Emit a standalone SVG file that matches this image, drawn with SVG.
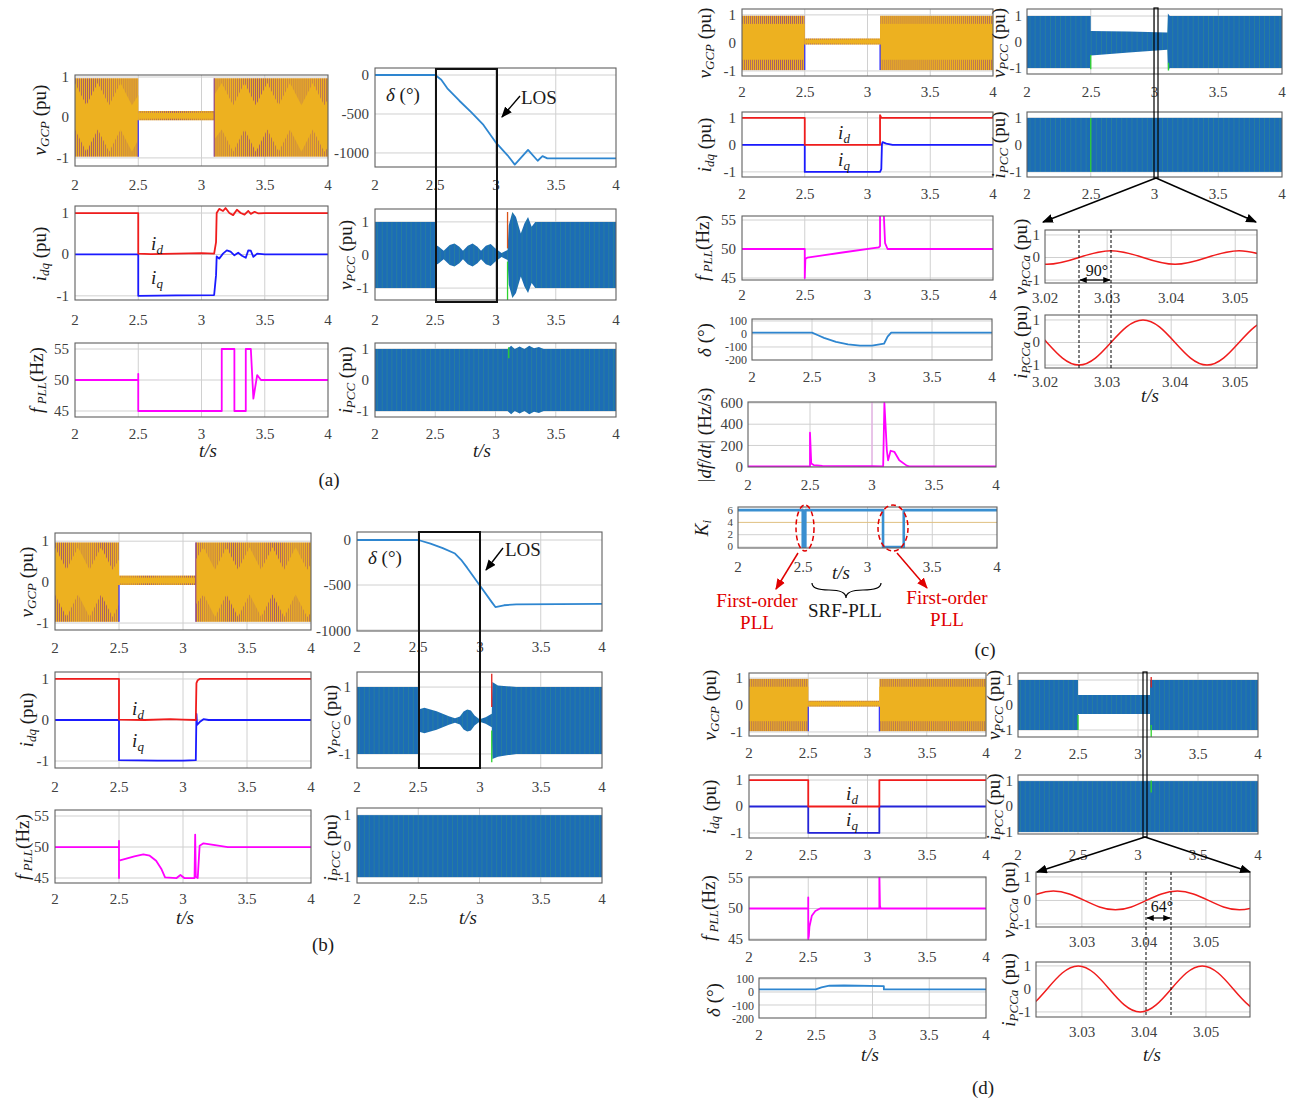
<svg xmlns="http://www.w3.org/2000/svg" xmlns:xlink="http://www.w3.org/1999/xlink" width="1302" height="1102" viewBox="0 0 1302 1102">
<style>
.fr{fill:none;stroke:#606060;stroke-width:1.1}
.g{fill:none;stroke:#d0d0d0;stroke-width:1;vector-effect:non-scaling-stroke}
.d{fill:none;stroke-width:1.8;vector-effect:non-scaling-stroke;stroke-linejoin:round}
.t{font-family:"Liberation Serif","Times New Roman",serif;font-size:15px;fill:#404040}
.tx{text-anchor:middle}
.ty{text-anchor:end}
.sm{font-size:12px}
.xs{font-size:11px}
.lb{font-family:"Liberation Serif","Times New Roman",serif;font-size:19px;fill:#1a1a1a;text-anchor:middle}
.i{font-style:italic}
.s{font-size:13px}
.rd{fill:#e00000}
.cn{fill:none;stroke:#000;stroke-width:1.4}
</style>
<defs>
<pattern id="po" patternUnits="userSpaceOnUse" x="0" y="-2" width="0.016" height="4"><rect width="0.016" height="4" fill="#EDB120"/><rect width="0.0035" height="4" fill="#7E2F8E"/></pattern>
<pattern id="pb" patternUnits="userSpaceOnUse" x="0" y="-2" width="0.04" height="4"><rect width="0.04" height="4" fill="#1c6db5"/><rect x="0.02" width="0.004" height="4" fill="#59c43a" opacity="0.35"/></pattern>
<marker id="mk" viewBox="0 0 10 8" refX="9" refY="4" markerWidth="11" markerHeight="9" markerUnits="userSpaceOnUse" orient="auto-start-reverse"><path d="M0,0 L10,4 L0,8 z" fill="#000"/></marker>
<marker id="ms" viewBox="0 0 10 8" refX="9" refY="4" markerWidth="8" markerHeight="6" markerUnits="userSpaceOnUse" orient="auto-start-reverse"><path d="M0,0 L10,4 L0,8 z" fill="#000"/></marker>
<marker id="mr" viewBox="0 0 10 8" refX="9" refY="4" markerWidth="11" markerHeight="9" markerUnits="userSpaceOnUse" orient="auto"><path d="M0,0 L10,4 L0,8 z" fill="#e00000"/></marker>
<g id="vgA">
<rect x="2" y="-0.97" width="0.5" height="1.94" fill="url(#po)"/>
<rect x="3.1" y="-0.97" width="0.9" height="1.94" fill="url(#po)"/>
<polygon fill="#EDB120" points="2,0.85 2.09,0.3 2.18,0.85 2.27,0.3 2.36,0.85 2.45,0.3 2.5,0.55 2.5,-0.55 2.45,-0.85 2.36,-0.3 2.27,-0.85 2.18,-0.3 2.09,-0.85 2,-0.3"/>
<polygon fill="#EDB120" points="3.1,0.55 3.16,0.85 3.25,0.3 3.34,0.85 3.43,0.3 3.52,0.85 3.61,0.3 3.7,0.85 3.79,0.3 3.88,0.85 3.97,0.3 4,0.45 4,-0.75 3.97,-0.85 3.88,-0.3 3.79,-0.85 3.7,-0.3 3.61,-0.85 3.52,-0.3 3.43,-0.85 3.34,-0.3 3.25,-0.85 3.16,-0.3 3.1,-0.55"/>
<rect x="2.5" y="-0.07" width="0.6" height="0.23" fill="url(#po)"/>
<rect x="2.5" y="-0.03" width="0.6" height="0.14" fill="#EDB120"/>
<path class="d" d="M2.5,-0.07V-0.97" stroke="#3030ff" style="stroke-width:1.2"/>
<path class="d" d="M3.1,-0.97V0.97" stroke="#7E2F8E" style="stroke-width:1"/>
</g>
<g id="vgC">
<rect x="2" y="-0.97" width="0.5" height="1.94" fill="url(#po)"/>
<rect x="3.1" y="-0.97" width="0.9" height="1.94" fill="url(#po)"/>
<rect x="2" y="-0.6" width="0.5" height="1.28" fill="#EDB120"/>
<rect x="3.1" y="-0.6" width="0.9" height="1.28" fill="#EDB120"/>
<rect x="2.5" y="-0.06" width="0.6" height="0.22" fill="url(#po)"/>
<rect x="2.5" y="-0.02" width="0.6" height="0.14" fill="#EDB120"/>
<path class="d" d="M2.5,-0.06V-0.97M3.1,-0.06V-0.97" stroke="#3030ff" style="stroke-width:1.2"/>
</g>
</defs>
<rect width="1302" height="1102" fill="#fff"/>

<!-- ================= PANEL A ================= -->
<g id="panel-a">
<g id="a1">
<svg x="75" y="75" width="253" height="91" viewBox="2 -1.05 2 2.25" preserveAspectRatio="none"><g transform="scale(1,-1)">
<path class="g" d="M2.5,-9999V9999M3,-9999V9999M3.5,-9999V9999M1,1H5M1,0H5M1,-1H5"/>
<use href="#vgA"/>
</g></svg>
<rect class="fr" x="75" y="75" width="253" height="91"/>
<text class="t ty" x="69" y="82">1</text><text class="t ty" x="69" y="122">0</text><text class="t ty" x="69" y="163">-1</text>
<text class="t tx" x="75" y="190">2</text><text class="t tx" x="138" y="190">2.5</text><text class="t tx" x="201.5" y="190">3</text><text class="t tx" x="265" y="190">3.5</text><text class="t tx" x="328" y="190">4</text>
<text class="lb" transform="translate(46,120) rotate(-90)"><tspan class="i">v</tspan><tspan class="i s" dy="3">GCP</tspan><tspan dy="-3"> (pu)</tspan></text>
</g>
<g id="a2">
<svg x="75" y="206" width="253" height="94" viewBox="2 -1.17 2 2.27" preserveAspectRatio="none"><g transform="scale(1,-1)">
<path class="g" d="M2.5,-9999V9999M3,-9999V9999M3.5,-9999V9999M1,1H5M1,0H5M1,-1H5"/>
<path class="d" stroke="#1a1aff" d="M2,0 H2.5 V-1 L2.8,-0.99 L3.1,-0.98 L3.115,-0.5 L3.12,-0.05 L3.14,-0.1 L3.17,0.02 L3.2,0.1 L3.23,0.07 L3.26,-0.02 L3.29,0.04 L3.32,-0.03 L3.35,-0.08 L3.37,0.1 L3.39,0.09 L3.41,-0.06 L3.44,0.02 L3.5,0 H4"/>
<path class="d" stroke="#f01c1c" d="M2,1 H2.5 V0.02 L2.6,0.01 L2.8,0.02 L3,0.03 L3.1,0.02 L3.115,0.3 L3.12,1 L3.14,1.1 L3.17,1.05 L3.19,1.12 L3.22,1.0 L3.25,0.95 L3.28,1.08 L3.31,1.0 L3.34,0.96 L3.37,1.05 L3.39,0.98 L3.42,1.03 L3.45,0.99 L3.5,1 H4"/>
</g></svg>
<rect class="fr" x="75" y="206" width="253" height="94"/>
<text class="t ty" x="69" y="218">1</text><text class="t ty" x="69" y="259">0</text><text class="t ty" x="69" y="301">-1</text>
<text class="t tx" x="75" y="325">2</text><text class="t tx" x="138" y="325">2.5</text><text class="t tx" x="201.5" y="325">3</text><text class="t tx" x="265" y="325">3.5</text><text class="t tx" x="328" y="325">4</text>
<text class="lb" transform="translate(46,254) rotate(-90)"><tspan class="i">i</tspan><tspan class="i s" dy="3">dq</tspan><tspan dy="-3"> (pu)</tspan></text>
<text class="lb i" x="157" y="250">i<tspan class="s" dy="4">d</tspan></text>
<text class="lb i" x="157" y="284">i<tspan class="s" dy="4">q</tspan></text>
</g>
<g id="a3">
<svg x="75" y="343" width="253" height="74" viewBox="2 -55.97 2 11.94" preserveAspectRatio="none"><g transform="scale(1,-1)">
<path class="g" d="M2.5,-9999V9999M3,-9999V9999M3.5,-9999V9999M1,55H5M1,50H5M1,45H5"/>
<path class="d" stroke="#ff00ff" d="M2,50 H2.5 V51 V45 H3.16 V55 H3.26 V45 H3.35 V55 H3.39 L3.41,47 L3.44,50.8 L3.47,50 H4"/>
</g></svg>
<rect class="fr" x="75" y="343" width="253" height="74"/>
<text class="t ty" x="69" y="354">55</text><text class="t ty" x="69" y="385">50</text><text class="t ty" x="69" y="416">45</text>
<text class="t tx" x="75" y="439">2</text><text class="t tx" x="138" y="439">2.5</text><text class="t tx" x="201.5" y="439">3</text><text class="t tx" x="265" y="439">3.5</text><text class="t tx" x="328" y="439">4</text>
<text class="lb" transform="translate(43,380) rotate(-90)"><tspan class="i">f</tspan><tspan class="i s" dy="3"> PLL</tspan><tspan dy="-3">(Hz)</tspan></text>
<text class="lb i" x="208" y="457">t/s</text>
</g>
<g id="a4">
<svg x="375" y="68" width="241" height="99" viewBox="2 -90 2 1270" preserveAspectRatio="none"><g transform="scale(1,-1)">
<path class="g" d="M2.5,-9999V9999M3,-9999V9999M3.5,-9999V9999M1,0H5M1,-500H5M1,-1000H5"/>
<path class="d" stroke="#2e86d0" d="M2,0 H2.5 L2.55,-60 L2.6,-170 L2.7,-330 L2.8,-480 L2.9,-640 L3,-860 L3.1,-1030 L3.16,-1150 L3.27,-960 L3.35,-1100 L3.39,-1040 L3.43,-1070 H4"/>
</g></svg>
<rect class="fr" x="375" y="68" width="241" height="99"/>
<text class="t ty" x="369" y="80">0</text><text class="t ty" x="369" y="119">-500</text><text class="t ty" x="369" y="158">-1000</text>
<text class="t tx" x="375" y="190">2</text><text class="t tx" x="435" y="190">2.5</text><text class="t tx" x="496" y="190">3</text><text class="t tx" x="556" y="190">3.5</text><text class="t tx" x="616" y="190">4</text>
<text class="lb" x="386" y="101" style="text-anchor:start"><tspan class="i">δ</tspan> (°)</text>
<text class="lb" x="521" y="104" style="text-anchor:start">LOS</text>
</g>
<g id="a5">
<svg x="375" y="209" width="241" height="91" viewBox="2 -1.39 2 2.75" preserveAspectRatio="none"><g transform="scale(1,-1)">
<path class="g" d="M2.5,-9999V9999M3,-9999V9999M3.5,-9999V9999M1,1H5M1,0H5M1,-1H5"/>
<polygon fill="url(#pb)" points="2,1 2.5,1 2.5,0.32 2.53,0.25 2.57,0.13 2.62,0.3 2.66,0.35 2.7,0.25 2.73,0.13 2.77,0.28 2.81,0.35 2.85,0.25 2.88,0.13 2.92,0.28 2.96,0.33 3.0,0.2 3.05,0.06 3.1,0.15 3.11,0.9 3.14,1.3 3.17,1.15 3.21,0.65 3.24,0.95 3.27,1.15 3.3,0.85 3.33,1.0 4,1 4,-1 3.33,-1.0 3.3,-0.85 3.27,-1.15 3.24,-0.95 3.21,-0.65 3.17,-1.15 3.14,-1.3 3.11,-0.9 3.1,-0.15 3.05,-0.06 3.0,-0.2 2.96,-0.33 2.92,-0.28 2.88,-0.13 2.85,-0.25 2.81,-0.35 2.77,-0.28 2.73,-0.13 2.7,-0.25 2.66,-0.35 2.62,-0.3 2.57,-0.13 2.53,-0.25 2.5,-0.32 2.5,-1 2,-1"/>
<path class="d" stroke="#d95319" style="stroke-width:1.3" d="M3.1,0.2V1.3"/>
<path class="d" stroke="#2fd32f" style="stroke-width:1.3" d="M3.1,-1.4V-0.2"/>
</g></svg>
<rect class="fr" x="375" y="209" width="241" height="91"/>
<text class="t ty" x="369" y="227">1</text><text class="t ty" x="369" y="260">0</text><text class="t ty" x="369" y="293">-1</text>
<text class="t tx" x="375" y="325">2</text><text class="t tx" x="435" y="325">2.5</text><text class="t tx" x="496" y="325">3</text><text class="t tx" x="556" y="325">3.5</text><text class="t tx" x="616" y="325">4</text>
<text class="lb" transform="translate(352,255) rotate(-90)"><tspan class="i">v</tspan><tspan class="i s" dy="3">PCC</tspan><tspan dy="-3"> (pu)</tspan></text>
</g>
<g id="a6">
<svg x="375" y="343" width="241" height="74" viewBox="2 -1.19 2 2.38" preserveAspectRatio="none"><g transform="scale(1,-1)">
<path class="g" d="M2.5,-9999V9999M3,-9999V9999M3.5,-9999V9999M1,1H5M1,0H5M1,-1H5"/>
<polygon fill="url(#pb)" points="2,1 3.1,1 3.13,1.1 3.16,1.0 3.2,1.08 3.24,1.0 3.28,1.1 3.32,1.02 3.36,1.06 3.4,1 4,1 4,-1 3.4,-1 3.36,-1.06 3.32,-1.02 3.28,-1.1 3.24,-1.0 3.2,-1.08 3.16,-1.0 3.13,-1.1 3.1,-1 2,-1"/>
<path class="d" stroke="#2fd32f" style="stroke-width:1.3" d="M3.11,0.7V1.05"/>
</g></svg>
<rect class="fr" x="375" y="343" width="241" height="74"/>
<text class="t ty" x="369" y="354">1</text><text class="t ty" x="369" y="385">0</text><text class="t ty" x="369" y="416">-1</text>
<text class="t tx" x="375" y="439">2</text><text class="t tx" x="435" y="439">2.5</text><text class="t tx" x="496" y="439">3</text><text class="t tx" x="556" y="439">3.5</text><text class="t tx" x="616" y="439">4</text>
<text class="lb" transform="translate(352,380) rotate(-90)"><tspan class="i">i</tspan><tspan class="i s" dy="3">PCC</tspan><tspan dy="-3"> (pu)</tspan></text>
<text class="lb i" x="482" y="457">t/s</text>
</g>
<text id="label-a" class="lb" x="329" y="486">(a)</text>
</g>

<!-- ================= PANEL B ================= -->
<g id="panel-b">
<g id="b1">
<svg x="55" y="533" width="256" height="97" viewBox="2 -1.2 2 2.37" preserveAspectRatio="none"><g transform="scale(1,-1)">
<path class="g" d="M2.5,-9999V9999M3,-9999V9999M3.5,-9999V9999M1,1H5M1,0H5M1,-1H5"/>
<use href="#vgA"/>
</g></svg>
<rect class="fr" x="55" y="533" width="256" height="97"/>
<text class="t ty" x="49" y="546">1</text><text class="t ty" x="49" y="587">0</text><text class="t ty" x="49" y="628">-1</text>
<text class="t tx" x="55" y="653">2</text><text class="t tx" x="119" y="653">2.5</text><text class="t tx" x="183" y="653">3</text><text class="t tx" x="247" y="653">3.5</text><text class="t tx" x="311" y="653">4</text>
<text class="lb" transform="translate(33,582) rotate(-90)"><tspan class="i">v</tspan><tspan class="i s" dy="3">GCP</tspan><tspan dy="-3"> (pu)</tspan></text>
</g>
<g id="b2">
<svg x="55" y="672" width="256" height="96" viewBox="2 -1.17 2 2.34" preserveAspectRatio="none"><g transform="scale(1,-1)">
<path class="g" d="M2.5,-9999V9999M3,-9999V9999M3.5,-9999V9999M1,1H5M1,0H5M1,-1H5"/>
<path class="d" stroke="#1a1aff" d="M2,0 H2.5 V-0.98 L2.8,-0.99 L3.0,-0.99 L3.1,-0.98 L3.105,0.15 L3.11,-0.12 L3.13,-0.05 L3.16,0.02 L3.2,0 H4"/>
<path class="d" stroke="#f01c1c" d="M2,1 H2.5 V0.01 L2.7,0.0 L2.9,0.02 L3,0.01 L3.1,0.0 L3.105,0.9 L3.115,0.97 L3.13,1 H4"/>
</g></svg>
<rect class="fr" x="55" y="672" width="256" height="96"/>
<text class="t ty" x="49" y="684">1</text><text class="t ty" x="49" y="725">0</text><text class="t ty" x="49" y="766">-1</text>
<text class="t tx" x="55" y="792">2</text><text class="t tx" x="119" y="792">2.5</text><text class="t tx" x="183" y="792">3</text><text class="t tx" x="247" y="792">3.5</text><text class="t tx" x="311" y="792">4</text>
<text class="lb" transform="translate(33,720) rotate(-90)"><tspan class="i">i</tspan><tspan class="i s" dy="3">dq</tspan><tspan dy="-3"> (pu)</tspan></text>
<text class="lb i" x="138" y="715">i<tspan class="s" dy="4">d</tspan></text>
<text class="lb i" x="138" y="747">i<tspan class="s" dy="4">q</tspan></text>
</g>
<g id="b3">
<svg x="55" y="810" width="256" height="73" viewBox="2 -55.97 2 11.77" preserveAspectRatio="none"><g transform="scale(1,-1)">
<path class="g" d="M2.5,-9999V9999M3,-9999V9999M3.5,-9999V9999M1,55H5M1,50H5M1,45H5"/>
<path class="d" stroke="#ff00ff" d="M2,50 H2.5 V51 V45 V47.8 L2.55,48.1 L2.62,48.5 L2.69,48.8 L2.74,48.6 L2.79,47.8 L2.83,46.5 L2.86,45.1 L2.95,45 L2.98,45.5 L3.01,45 L3.09,45 L3.095,52 L3.1,45.2 L3.115,45 L3.13,50.2 L3.16,50.6 L3.25,50.3 L3.35,50 H4"/>
</g></svg>
<rect class="fr" x="55" y="810" width="256" height="73"/>
<text class="t ty" x="49" y="821">55</text><text class="t ty" x="49" y="852">50</text><text class="t ty" x="49" y="883">45</text>
<text class="t tx" x="55" y="904">2</text><text class="t tx" x="119" y="904">2.5</text><text class="t tx" x="183" y="904">3</text><text class="t tx" x="247" y="904">3.5</text><text class="t tx" x="311" y="904">4</text>
<text class="lb" transform="translate(29,847) rotate(-90)"><tspan class="i">f</tspan><tspan class="i s" dy="3"> PLL</tspan><tspan dy="-3">(Hz)</tspan></text>
<text class="lb i" x="185" y="924">t/s</text>
</g>
<g id="b4">
<svg x="357" y="532" width="245" height="99" viewBox="2 -89 2 1100" preserveAspectRatio="none"><g transform="scale(1,-1)">
<path class="g" d="M2.5,-9999V9999M3,-9999V9999M3.5,-9999V9999M1,0H5M1,-500H5M1,-1000H5"/>
<path class="d" stroke="#2e86d0" d="M2,0 H2.5 L2.6,-40 L2.7,-90 L2.8,-150 L2.85,-220 L2.9,-310 L3,-500 L3.1,-690 L3.13,-745 L3.2,-725 L3.3,-715 L4,-710"/>
</g></svg>
<rect class="fr" x="357" y="532" width="245" height="99"/>
<text class="t ty" x="351" y="545">0</text><text class="t ty" x="351" y="590">-500</text><text class="t ty" x="351" y="636">-1000</text>
<text class="t tx" x="357" y="652">2</text><text class="t tx" x="418" y="652">2.5</text><text class="t tx" x="480" y="652">3</text><text class="t tx" x="541" y="652">3.5</text><text class="t tx" x="602" y="652">4</text>
<text class="lb" x="368" y="564" style="text-anchor:start"><tspan class="i">δ</tspan> (°)</text>
<text class="lb" x="505" y="556" style="text-anchor:start">LOS</text>
</g>
<g id="b5">
<svg x="357" y="672" width="245" height="96" viewBox="2 -1.45 2 2.87" preserveAspectRatio="none"><g transform="scale(1,-1)">
<path class="g" d="M2.5,-9999V9999M3,-9999V9999M3.5,-9999V9999M1,1H5M1,0H5M1,-1H5"/>
<polygon fill="url(#pb)" points="2,1 2.5,1 2.5,0.33 2.55,0.38 2.6,0.33 2.65,0.28 2.7,0.2 2.75,0.13 2.8,0.07 2.84,0.12 2.87,0.27 2.9,0.33 2.93,0.3 2.96,0.15 3.0,0.04 3.05,0.1 3.1,0.2 3.105,1.15 3.15,1.05 3.3,1.0 4,1 4,-1 3.3,-1.0 3.15,-1.08 3.105,-1.15 3.1,-0.2 3.05,-0.1 3.0,-0.04 2.96,-0.15 2.93,-0.3 2.9,-0.33 2.87,-0.27 2.84,-0.12 2.8,-0.07 2.75,-0.13 2.7,-0.2 2.65,-0.28 2.6,-0.33 2.55,-0.38 2.5,-0.33 2.5,-1 2,-1"/>
<path class="d" stroke="#e0201a" style="stroke-width:1.3" d="M3.1,0.4V1.4"/>
<path class="d" stroke="#2fd32f" style="stroke-width:1.3" d="M3.1,-1.25V-0.3"/>
</g></svg>
<rect class="fr" x="357" y="672" width="245" height="96"/>
<text class="t ty" x="351" y="692">1</text><text class="t ty" x="351" y="725">0</text><text class="t ty" x="351" y="759">-1</text>
<text class="t tx" x="357" y="792">2</text><text class="t tx" x="418" y="792">2.5</text><text class="t tx" x="480" y="792">3</text><text class="t tx" x="541" y="792">3.5</text><text class="t tx" x="602" y="792">4</text>
<text class="lb" transform="translate(337,720) rotate(-90)"><tspan class="i">v</tspan><tspan class="i s" dy="3">PCC</tspan><tspan dy="-3"> (pu)</tspan></text>
</g>
<g id="b6">
<svg x="357" y="808" width="245" height="75" viewBox="2 -1.23 2 2.42" preserveAspectRatio="none"><g transform="scale(1,-1)">
<path class="g" d="M2.5,-9999V9999M3,-9999V9999M3.5,-9999V9999M1,1H5M1,0H5M1,-1H5"/>
<rect x="2" y="-1" width="2" height="2" fill="url(#pb)"/>
</g></svg>
<rect class="fr" x="357" y="808" width="245" height="75"/>
<text class="t ty" x="351" y="820">1</text><text class="t ty" x="351" y="851">0</text><text class="t ty" x="351" y="882">-1</text>
<text class="t tx" x="357" y="904">2</text><text class="t tx" x="418" y="904">2.5</text><text class="t tx" x="480" y="904">3</text><text class="t tx" x="541" y="904">3.5</text><text class="t tx" x="602" y="904">4</text>
<text class="lb" transform="translate(337,848) rotate(-90)"><tspan class="i">i</tspan><tspan class="i s" dy="3">PCC</tspan><tspan dy="-3"> (pu)</tspan></text>
<text class="lb i" x="468" y="924">t/s</text>
</g>
<text id="label-b" class="lb" x="323" y="951">(b)</text>
</g>

<!-- ================= PANEL C ================= -->
<g id="panel-c">
<g id="c1">
<svg x="742" y="9" width="251" height="67" viewBox="2 -1.21 2 2.39" preserveAspectRatio="none"><g transform="scale(1,-1)">
<path class="g" d="M2.5,-9999V9999M3,-9999V9999M3.5,-9999V9999M1,1H5M1,0H5M1,-1H5"/>
<use href="#vgC"/>
</g></svg>
<rect class="fr" x="742" y="9" width="251" height="67"/>
<text class="t ty" x="736" y="20">1</text><text class="t ty" x="736" y="48">0</text><text class="t ty" x="736" y="76">-1</text>
<text class="t tx" x="742" y="97">2</text><text class="t tx" x="805" y="97">2.5</text><text class="t tx" x="867.5" y="97">3</text><text class="t tx" x="930" y="97">3.5</text><text class="t tx" x="993" y="97">4</text>
<text class="lb" transform="translate(711,43) rotate(-90)"><tspan class="i">v</tspan><tspan class="i s" dy="3">GCP</tspan><tspan dy="-3"> (pu)</tspan></text>
</g>
<g id="c2">
<svg x="742" y="112" width="251" height="65" viewBox="2 -1.22 2 2.41" preserveAspectRatio="none"><g transform="scale(1,-1)">
<path class="g" d="M2.5,-9999V9999M3,-9999V9999M3.5,-9999V9999M1,1H5M1,0H5M1,-1H5"/>
<path class="d" stroke="#1a1aff" d="M2,0 H2.5 V-1 H3.1 L3.11,-0.9 L3.115,0.02 L3.12,0.1 L3.15,0.05 L3.2,0 H4"/>
<path class="d" stroke="#f01c1c" d="M2,1 H2.5 V0 H3.1 V1.1 L3.11,1 H4"/>
</g></svg>
<rect class="fr" x="742" y="112" width="251" height="65"/>
<text class="t ty" x="736" y="123">1</text><text class="t ty" x="736" y="150">0</text><text class="t ty" x="736" y="177">-1</text>
<text class="t tx" x="742" y="199">2</text><text class="t tx" x="805" y="199">2.5</text><text class="t tx" x="867.5" y="199">3</text><text class="t tx" x="930" y="199">3.5</text><text class="t tx" x="993" y="199">4</text>
<text class="lb" transform="translate(711,145) rotate(-90)"><tspan class="i">i</tspan><tspan class="i s" dy="3">dq</tspan><tspan dy="-3"> (pu)</tspan></text>
<text class="lb i" x="844" y="139">i<tspan class="s" dy="4">d</tspan></text>
<text class="lb i" x="844" y="166">i<tspan class="s" dy="4">q</tspan></text>
</g>
<g id="c3">
<svg x="742" y="216" width="251" height="64" viewBox="2 -55.69 2 11.03" preserveAspectRatio="none"><g transform="scale(1,-1)">
<path class="g" d="M2.5,-9999V9999M3,-9999V9999M3.5,-9999V9999M1,55H5M1,50H5M1,45H5"/>
<path class="d" stroke="#ff00ff" d="M2,50 H2.5 V45 L2.505,48.3 L2.52,48.5 L2.8,49.4 L3.09,50.3 L3.1,50.5 V56 L3.13,56 L3.14,51 L3.16,50 H4"/>
</g></svg>
<rect class="fr" x="742" y="216" width="251" height="64"/>
<text class="t ty" x="736" y="225">55</text><text class="t ty" x="736" y="254">50</text><text class="t ty" x="736" y="283">45</text>
<text class="t tx" x="742" y="300">2</text><text class="t tx" x="805" y="300">2.5</text><text class="t tx" x="867.5" y="300">3</text><text class="t tx" x="930" y="300">3.5</text><text class="t tx" x="993" y="300">4</text>
<text class="lb" transform="translate(709,248) rotate(-90)"><tspan class="i">f</tspan><tspan class="i s" dy="3"> PLL</tspan><tspan dy="-3">(Hz)</tspan></text>
</g>
<g id="c4">
<svg x="752" y="319" width="240" height="41" viewBox="2 -115 2 315" preserveAspectRatio="none"><g transform="scale(1,-1)">
<path class="g" d="M2.5,-9999V9999M3,-9999V9999M3.5,-9999V9999M1,100H5M1,0H5M1,-100H5"/>
<path class="d" stroke="#2e86d0" d="M2,10 H2.5 L2.55,-10 L2.6,-30 L2.7,-60 L2.8,-80 L2.9,-90 L3.0,-90 L3.1,-75 L3.13,-20 L3.16,10 H4"/>
</g></svg>
<rect class="fr" x="752" y="319" width="240" height="41"/>
<text class="t ty sm" x="747" y="325">100</text><text class="t ty sm" x="747" y="338">0</text><text class="t ty sm" x="747" y="351">-100</text><text class="t ty sm" x="747" y="364">-200</text>
<text class="t tx" x="752" y="382">2</text><text class="t tx" x="812" y="382">2.5</text><text class="t tx" x="872" y="382">3</text><text class="t tx" x="932" y="382">3.5</text><text class="t tx" x="992" y="382">4</text>
<text class="lb" transform="translate(711,340) rotate(-90)"><tspan class="i">δ</tspan> (°)</text>
</g>
<g id="c5">
<svg x="748" y="402" width="248" height="65" viewBox="2 -609 2 612" preserveAspectRatio="none"><g transform="scale(1,-1)">
<path class="g" d="M2.5,-9999V9999M3,-9999V9999M3.5,-9999V9999M1,600H5M1,400H5M1,200H5M1,0H5"/>
<path class="d" stroke="#eaa0ea" style="stroke-width:1" d="M3,0V620"/>
<path class="d" stroke="#ff00ff" d="M2,2 H2.5 V320 L2.51,30 L2.53,15 L2.6,8 L3.0,5 L3.09,3 L3.1,600 L3.12,150 L3.13,60 L3.15,150 L3.18,140 L3.22,60 L3.28,10 L3.3,3 H4"/>
</g></svg>
<rect class="fr" x="748" y="402" width="248" height="65"/>
<text class="t ty" x="743" y="408">600</text><text class="t ty" x="743" y="429">400</text><text class="t ty" x="743" y="451">200</text><text class="t ty" x="743" y="472">0</text>
<text class="t tx" x="748" y="490">2</text><text class="t tx" x="810" y="490">2.5</text><text class="t tx" x="872" y="490">3</text><text class="t tx" x="934" y="490">3.5</text><text class="t tx" x="996" y="490">4</text>
<text class="lb" transform="translate(711,435) rotate(-90)">|<tspan class="i">df</tspan>/<tspan class="i">dt</tspan>| (Hz/s)</text>
</g>
<g id="c6">
<svg x="738" y="507" width="259" height="41" viewBox="2 -6.5 2 6.66" preserveAspectRatio="none"><g transform="scale(1,-1)">
<path class="g" d="M2.5,-9999V9999M3,-9999V9999M3.5,-9999V9999M1,6H5M1,2H5M1,0H5"/>
<path class="d" stroke="#e0c080" style="stroke-width:1" d="M1,4H5"/>
<path class="d" stroke="#3a8fd0" style="stroke-width:2.6" d="M2,6 H2.5 V0 H2.52 V6 H3.12 V0 H3.28 V6 H4"/>
</g></svg>
<rect class="fr" x="738" y="507" width="259" height="41"/>
<text class="t ty xs" x="733" y="514">6</text><text class="t ty xs" x="733" y="526">4</text><text class="t ty xs" x="733" y="538">2</text><text class="t ty xs" x="733" y="550">0</text>
<text class="t tx" x="738" y="572">2</text><text class="t tx" x="803" y="572">2.5</text><text class="t tx" x="867.5" y="572">3</text><text class="t tx" x="932" y="572">3.5</text><text class="t tx" x="997" y="572">4</text>
<text class="lb" transform="translate(708,528) rotate(-90)"><tspan class="i">K</tspan><tspan class="i s" dy="3">i</tspan></text>
<text class="lb i" x="841" y="579">t/s</text>
</g>
<g id="c7">
<svg x="1027" y="9" width="255" height="65" viewBox="2 -1.27 2 2.5" preserveAspectRatio="none"><g transform="scale(1,-1)">
<path class="g" d="M2.5,-9999V9999M3,-9999V9999M3.5,-9999V9999M1,1H5M1,0H5M1,-1H5"/>
<polygon fill="url(#pb)" points="2,1 2.5,1 2.5,0.42 2.8,0.4 3.1,0.37 3.105,1.1 3.12,1.0 4,1 4,-1 3.12,-1 3.105,-1.1 3.1,-0.3 2.8,-0.4 2.5,-0.52 2.5,-1 2,-1"/>
<path class="d" stroke="#2fd32f" style="stroke-width:1.3" d="M2.5,-1.05V-0.5M3.11,-1.1V-0.8"/>
</g></svg>
<rect class="fr" x="1027" y="9" width="255" height="65"/>
<text class="t ty" x="1022" y="21">1</text><text class="t ty" x="1022" y="47">0</text><text class="t ty" x="1022" y="73">-1</text>
<text class="t tx" x="1027" y="97">2</text><text class="t tx" x="1091" y="97">2.5</text><text class="t tx" x="1154.5" y="97">3</text><text class="t tx" x="1218" y="97">3.5</text><text class="t tx" x="1282" y="97">4</text>
<text class="lb" transform="translate(1005,43) rotate(-90)"><tspan class="i">v</tspan><tspan class="i s" dy="3">PCC</tspan><tspan dy="-3"> (pu)</tspan></text>
</g>
<g id="c8">
<svg x="1027" y="112" width="255" height="65" viewBox="2 -1.22 2 2.41" preserveAspectRatio="none"><g transform="scale(1,-1)">
<path class="g" d="M2.5,-9999V9999M3,-9999V9999M3.5,-9999V9999M1,1H5M1,0H5M1,-1H5"/>
<rect x="2" y="-1" width="2" height="2" fill="url(#pb)"/>
<path class="d" stroke="#2fd32f" style="stroke-width:1.2" d="M2.5,-1V1"/>
</g></svg>
<rect class="fr" x="1027" y="112" width="255" height="65"/>
<text class="t ty" x="1022" y="123">1</text><text class="t ty" x="1022" y="150">0</text><text class="t ty" x="1022" y="177">-1</text>
<text class="t tx" x="1027" y="199">2</text><text class="t tx" x="1091" y="199">2.5</text><text class="t tx" x="1154.5" y="199">3</text><text class="t tx" x="1218" y="199">3.5</text><text class="t tx" x="1282" y="199">4</text>
<text class="lb" transform="translate(1005,145) rotate(-90)"><tspan class="i">i</tspan><tspan class="i s" dy="3">PCC</tspan><tspan dy="-3"> (pu)</tspan></text>
</g>
<g id="c9">
<svg x="1045" y="230" width="212" height="53" viewBox="3.0203 -1.22 0.0331 2.35" preserveAspectRatio="none"><g transform="scale(1,-1)">
<path class="g" d="M3.03,-9999V9999M3.04,-9999V9999M3.05,-9999V9999M3,1H3.1M3,0H3.1M3,-1H3.1"/>
<path class="d" stroke="#f01c1c" style="stroke-width:1.5" d="M3.0156,0 C3.01723,-0.1537 3.01879,-0.3 3.0206,-0.3 C3.02241,-0.3 3.02397,-0.1537 3.0256,0 C3.02723,0.1537 3.02879,0.3 3.0306,0.3 C3.03241,0.3 3.03397,0.1537 3.0356,0 C3.03723,-0.1537 3.03879,-0.3 3.0406,-0.3 C3.04241,-0.3 3.04397,-0.1537 3.0456,0 C3.04723,0.1537 3.04879,0.3 3.0506,0.3 C3.05241,0.3 3.05397,0.1537 3.0556,0"/>
</g></svg>
<rect class="fr" x="1045" y="230" width="212" height="53"/>
<text class="t ty" x="1040" y="240">1</text><text class="t ty" x="1040" y="262">0</text><text class="t ty" x="1040" y="285">-1</text>
<text class="t tx" x="1045" y="303">3.02</text><text class="t tx" x="1107" y="303">3.03</text><text class="t tx" x="1171" y="303">3.04</text><text class="t tx" x="1235" y="303">3.05</text>
<text class="lb" transform="translate(1027,257) rotate(-90)"><tspan class="i">v</tspan><tspan class="i s" dy="3">PCCa</tspan><tspan dy="-3"> (pu)</tspan></text>
<text class="t tx" x="1097" y="276" style="font-size:16px;fill:#111">90°</text>
</g>
<g id="c10">
<svg x="1045" y="315" width="212" height="53" viewBox="3.0203 -1.22 0.0331 2.35" preserveAspectRatio="none"><g transform="scale(1,-1)">
<path class="g" d="M3.03,-9999V9999M3.04,-9999V9999M3.05,-9999V9999M3,1H3.1M3,0H3.1M3,-1H3.1"/>
<path class="d" stroke="#f01c1c" style="stroke-width:1.5" d="M3.0156,1 C3.01741,1 3.01897,0.5123 3.0206,0 C3.02223,-0.5123 3.02379,-1 3.0256,-1 C3.02741,-1 3.02897,-0.5123 3.0306,0 C3.03223,0.5123 3.03379,1 3.0356,1 C3.03741,1 3.03897,0.5123 3.0406,0 C3.04223,-0.5123 3.04379,-1 3.0456,-1 C3.04741,-1 3.04897,-0.5123 3.0506,0 C3.05223,0.5123 3.05379,1 3.0556,1"/>
</g></svg>
<rect class="fr" x="1045" y="315" width="212" height="53"/>
<text class="t ty" x="1040" y="325">1</text><text class="t ty" x="1040" y="347">0</text><text class="t ty" x="1040" y="370">-1</text>
<text class="t tx" x="1045" y="387">3.02</text><text class="t tx" x="1107" y="387">3.03</text><text class="t tx" x="1175" y="387">3.04</text><text class="t tx" x="1235" y="387">3.05</text>
<text class="lb" transform="translate(1027,342) rotate(-90)"><tspan class="i">i</tspan><tspan class="i s" dy="3">PCCa</tspan><tspan dy="-3"> (pu)</tspan></text>
<text class="lb i" x="1150" y="402">t/s</text>
</g>
<g id="c-annot">
<ellipse cx="805" cy="528" rx="9" ry="23" fill="none" stroke="#e00000" stroke-width="1.5" stroke-dasharray="5,3"/>
<ellipse cx="893" cy="528" rx="15" ry="23" fill="none" stroke="#e00000" stroke-width="1.5" stroke-dasharray="5,3"/>
<path d="M812,583 Q812,590 829,590 Q846,590 846,598 Q846,590 863,590 Q881,590 881,583" fill="none" stroke="#000" stroke-width="1.2"/>
<text class="lb" x="845" y="617">SRF-PLL</text>
<text class="lb rd" x="757" y="607">First-order</text><text class="lb rd" x="757" y="629">PLL</text>
<text class="lb rd" x="947" y="604">First-order</text><text class="lb rd" x="947" y="626">PLL</text>
</g>
<text id="label-c" class="lb" x="985" y="656">(c)</text>
</g>

<!-- ================= PANEL D ================= -->
<g id="panel-d">
<g id="d1">
<svg x="749" y="673" width="237" height="63" viewBox="2 -1.19 2 2.34" preserveAspectRatio="none"><g transform="scale(1,-1)">
<path class="g" d="M2.5,-9999V9999M3,-9999V9999M3.5,-9999V9999M1,1H5M1,0H5M1,-1H5"/>
<use href="#vgC"/>
</g></svg>
<rect class="fr" x="749" y="673" width="237" height="63"/>
<text class="t ty" x="743" y="683">1</text><text class="t ty" x="743" y="710">0</text><text class="t ty" x="743" y="737">-1</text>
<text class="t tx" x="749" y="758">2</text><text class="t tx" x="808" y="758">2.5</text><text class="t tx" x="867.5" y="758">3</text><text class="t tx" x="927" y="758">3.5</text><text class="t tx" x="986" y="758">4</text>
<text class="lb" transform="translate(716,705) rotate(-90)"><tspan class="i">v</tspan><tspan class="i s" dy="3">GCP</tspan><tspan dy="-3"> (pu)</tspan></text>
</g>
<g id="d2">
<svg x="749" y="775" width="237" height="63" viewBox="2 -1.19 2 2.38" preserveAspectRatio="none"><g transform="scale(1,-1)">
<path class="g" d="M2.5,-9999V9999M3,-9999V9999M3.5,-9999V9999M1,1H5M1,0H5M1,-1H5"/>
<path class="d" stroke="#2424d8" d="M2,0 H2.5 V-1 H3.1 V0 H4"/>
<path class="d" stroke="#f01c1c" d="M2,1 H2.5 V0 H3.1 V1 H4"/>
</g></svg>
<rect class="fr" x="749" y="775" width="237" height="63"/>
<text class="t ty" x="743" y="785">1</text><text class="t ty" x="743" y="811">0</text><text class="t ty" x="743" y="838">-1</text>
<text class="t tx" x="749" y="860">2</text><text class="t tx" x="808" y="860">2.5</text><text class="t tx" x="867.5" y="860">3</text><text class="t tx" x="927" y="860">3.5</text><text class="t tx" x="986" y="860">4</text>
<text class="lb" transform="translate(716,807) rotate(-90)"><tspan class="i">i</tspan><tspan class="i s" dy="3">dq</tspan><tspan dy="-3"> (pu)</tspan></text>
<text class="lb i" x="852" y="800">i<tspan class="s" dy="4">d</tspan></text>
<text class="lb i" x="852" y="826">i<tspan class="s" dy="4">q</tspan></text>
</g>
<g id="d3">
<svg x="749" y="877" width="237" height="63" viewBox="2 -55.16 2 10.32" preserveAspectRatio="none"><g transform="scale(1,-1)">
<path class="g" d="M2.5,-9999V9999M3,-9999V9999M3.5,-9999V9999M1,55H5M1,50H5M1,45H5"/>
<path class="d" stroke="#ff00ff" d="M2,50 H2.5 V51.8 V45 L2.505,45.5 L2.51,47 L2.53,48.8 L2.56,49.6 L2.6,50 H3.1 V56 L3.105,50.5 L3.11,50 H4"/>
</g></svg>
<rect class="fr" x="749" y="877" width="237" height="63"/>
<text class="t ty" x="743" y="883">55</text><text class="t ty" x="743" y="913">50</text><text class="t ty" x="743" y="944">45</text>
<text class="t tx" x="749" y="962">2</text><text class="t tx" x="808" y="962">2.5</text><text class="t tx" x="867.5" y="962">3</text><text class="t tx" x="927" y="962">3.5</text><text class="t tx" x="986" y="962">4</text>
<text class="lb" transform="translate(715,908) rotate(-90)"><tspan class="i">f</tspan><tspan class="i s" dy="3"> PLL</tspan><tspan dy="-3">(Hz)</tspan></text>
</g>
<g id="d4">
<svg x="759" y="978" width="227" height="40" viewBox="2 -107.5 2 307.5" preserveAspectRatio="none"><g transform="scale(1,-1)">
<path class="g" d="M2.5,-9999V9999M3,-9999V9999M3.5,-9999V9999M1,100H5M1,0H5M1,-100H5"/>
<path class="d" stroke="#2e86d0" d="M2,20 H2.5 L2.55,35 L2.62,48 L2.75,50 L3.1,45 V20 H4"/>
</g></svg>
<rect class="fr" x="759" y="978" width="227" height="40"/>
<text class="t ty sm" x="754" y="983">100</text><text class="t ty sm" x="754" y="996">0</text><text class="t ty sm" x="754" y="1010">-100</text><text class="t ty sm" x="754" y="1023">-200</text>
<text class="t tx" x="759" y="1040">2</text><text class="t tx" x="816" y="1040">2.5</text><text class="t tx" x="872.5" y="1040">3</text><text class="t tx" x="929" y="1040">3.5</text><text class="t tx" x="986" y="1040">4</text>
<text class="lb" transform="translate(720,1000) rotate(-90)"><tspan class="i">δ</tspan> (°)</text>
<text class="lb i" x="870" y="1061">t/s</text>
</g>
<g id="d5">
<svg x="1018" y="673" width="240" height="64" viewBox="2 -1.28 2 2.56" preserveAspectRatio="none"><g transform="scale(1,-1)">
<path class="g" d="M2.5,-9999V9999M3,-9999V9999M3.5,-9999V9999M1,1H5M1,0H5M1,-1H5"/>
<polygon fill="url(#pb)" points="2,1 2.5,1 2.5,0.4 3.1,0.4 3.1,1 4,1 4,-1 3.1,-1 3.1,-0.36 2.5,-0.36 2.5,-1 2,-1"/>
<path class="d" stroke="#e0201a" style="stroke-width:1.3" d="M3.11,0.7V1.12"/>
<path class="d" stroke="#2fd32f" style="stroke-width:1.3" d="M3.11,-1.3V-0.8M2.5,-1V-0.4"/>
</g></svg>
<rect class="fr" x="1018" y="673" width="240" height="64"/>
<text class="t ty" x="1013" y="685">1</text><text class="t ty" x="1013" y="710">0</text><text class="t ty" x="1013" y="735">-1</text>
<text class="t tx" x="1018" y="759">2</text><text class="t tx" x="1078" y="759">2.5</text><text class="t tx" x="1138" y="759">3</text><text class="t tx" x="1198" y="759">3.5</text><text class="t tx" x="1258" y="759">4</text>
<text class="lb" transform="translate(1000,705) rotate(-90)"><tspan class="i">v</tspan><tspan class="i s" dy="3">PCC</tspan><tspan dy="-3"> (pu)</tspan></text>
</g>
<g id="d6">
<svg x="1018" y="775" width="240" height="59" viewBox="2 -1.24 2 2.32" preserveAspectRatio="none"><g transform="scale(1,-1)">
<path class="g" d="M2.5,-9999V9999M3,-9999V9999M3.5,-9999V9999M1,1H5M1,0H5M1,-1H5"/>
<rect x="2" y="-1" width="2" height="2" fill="url(#pb)"/>
<path class="d" stroke="#2fd32f" style="stroke-width:1.3" d="M3.11,0.55V1.02"/>
</g></svg>
<rect class="fr" x="1018" y="775" width="240" height="59"/>
<text class="t ty" x="1013" y="786">1</text><text class="t ty" x="1013" y="811">0</text><text class="t ty" x="1013" y="837">-1</text>
<text class="t tx" x="1018" y="860">2</text><text class="t tx" x="1078" y="860">2.5</text><text class="t tx" x="1138" y="860">3</text><text class="t tx" x="1198" y="860">3.5</text><text class="t tx" x="1258" y="860">4</text>
<text class="lb" transform="translate(1000,807) rotate(-90)"><tspan class="i">i</tspan><tspan class="i s" dy="3">PCC</tspan><tspan dy="-3"> (pu)</tspan></text>
</g>
<g id="d7">
<svg x="1036" y="872" width="214" height="55" viewBox="3.0226 -1.21 0.0345 2.34" preserveAspectRatio="none"><g transform="scale(1,-1)">
<path class="g" d="M3.03,-9999V9999M3.04,-9999V9999M3.05,-9999V9999M3,1H3.1M3,0H3.1M3,-1H3.1"/>
<path class="d" stroke="#f01c1c" style="stroke-width:1.5" d="M3.0204,0 C3.02203,0.2049 3.02359,0.4 3.0254,0.4 C3.02721,0.4 3.02877,0.2049 3.0304,0 C3.03203,-0.2049 3.03359,-0.4 3.0354,-0.4 C3.03721,-0.4 3.03877,-0.2049 3.0404,0 C3.04203,0.2049 3.04359,0.4 3.0454,0.4 C3.04721,0.4 3.04877,0.2049 3.0504,0 C3.05203,-0.2049 3.05359,-0.4 3.0554,-0.4 C3.05721,-0.4 3.05877,-0.2049 3.0604,0"/>
</g></svg>
<rect class="fr" x="1036" y="872" width="214" height="55"/>
<text class="t ty" x="1031" y="882">1</text><text class="t ty" x="1031" y="905">0</text><text class="t ty" x="1031" y="929">-1</text>
<text class="t tx" x="1082" y="947">3.03</text><text class="t tx" x="1144" y="947">3.04</text><text class="t tx" x="1206" y="947">3.05</text>
<text class="lb" transform="translate(1015,900) rotate(-90)"><tspan class="i">v</tspan><tspan class="i s" dy="3">PCCa</tspan><tspan dy="-3"> (pu)</tspan></text>
<text class="t tx" x="1162" y="912" style="font-size:16px;fill:#111">64°</text>
</g>
<g id="d8">
<svg x="1036" y="962" width="214" height="55" viewBox="3.0226 -1.17 0.0345 2.39" preserveAspectRatio="none"><g transform="scale(1,-1)">
<path class="g" d="M3.03,-9999V9999M3.04,-9999V9999M3.05,-9999V9999M3,1H3.1M3,0H3.1M3,-1H3.1"/>
<path class="d" stroke="#f01c1c" style="stroke-width:1.5" d="M3.0194,-1 C3.02121,-1 3.02277,-0.5123 3.0244,0 C3.02603,0.5123 3.02759,1 3.0294,1 C3.03121,1 3.03277,0.5123 3.0344,0 C3.03603,-0.5123 3.03759,-1 3.0394,-1 C3.04121,-1 3.04277,-0.5123 3.0444,0 C3.04603,0.5123 3.04759,1 3.0494,1 C3.05121,1 3.05277,0.5123 3.0544,0 C3.05603,-0.5123 3.05759,-1 3.0594,-1"/>
</g></svg>
<rect class="fr" x="1036" y="962" width="214" height="55"/>
<text class="t ty" x="1031" y="971">1</text><text class="t ty" x="1031" y="994">0</text><text class="t ty" x="1031" y="1017">-1</text>
<text class="t tx" x="1082" y="1037">3.03</text><text class="t tx" x="1144" y="1037">3.04</text><text class="t tx" x="1206" y="1037">3.05</text>
<text class="lb" transform="translate(1015,990) rotate(-90)"><tspan class="i">i</tspan><tspan class="i s" dy="3">PCCa</tspan><tspan dy="-3"> (pu)</tspan></text>
<text class="lb i" x="1152" y="1061">t/s</text>
</g>
<text id="label-d" class="lb" x="983" y="1094">(d)</text>
</g>

<!-- ================= CONNECTORS ================= -->
<g id="connectors">
<rect x="436" y="69" width="61" height="233" fill="none" stroke="#111" stroke-width="2"/>
<rect x="419" y="532" width="61" height="236" fill="none" stroke="#111" stroke-width="2"/>
<line class="cn" x1="520" y1="96" x2="502" y2="117" marker-end="url(#mk)"/>
<line class="cn" x1="503" y1="548" x2="486" y2="570" marker-end="url(#mk)"/>
<rect x="1154" y="8" width="4" height="170" fill="none" stroke="#000" stroke-width="1.2"/>
<line class="cn" x1="1156" y1="178" x2="1043" y2="222" marker-end="url(#mk)"/>
<line class="cn" x1="1156" y1="178" x2="1256" y2="222" marker-end="url(#mk)"/>
<rect x="1143" y="672" width="4" height="165" fill="none" stroke="#000" stroke-width="1.2"/>
<line class="cn" x1="1145" y1="837" x2="1037" y2="872" marker-end="url(#mk)"/>
<line class="cn" x1="1145" y1="837" x2="1250" y2="872" marker-end="url(#mk)"/>
<path d="M1079,230V368M1111,230V368M1146,872V1017M1171,872V1017" fill="none" stroke="#000" stroke-width="1" stroke-dasharray="3,2"/>
<line x1="1080" y1="280" x2="1110" y2="280" stroke="#000" stroke-width="1.2" marker-start="url(#ms)" marker-end="url(#ms)"/>
<line x1="1147" y1="918" x2="1170" y2="918" stroke="#000" stroke-width="1.2" marker-start="url(#ms)" marker-end="url(#ms)"/>
<line x1="798" y1="553" x2="776" y2="589" stroke="#e00000" stroke-width="1.5" marker-end="url(#mr)"/>
<line x1="897" y1="553" x2="927" y2="588" stroke="#e00000" stroke-width="1.5" marker-end="url(#mr)"/>
</g>
</svg>
